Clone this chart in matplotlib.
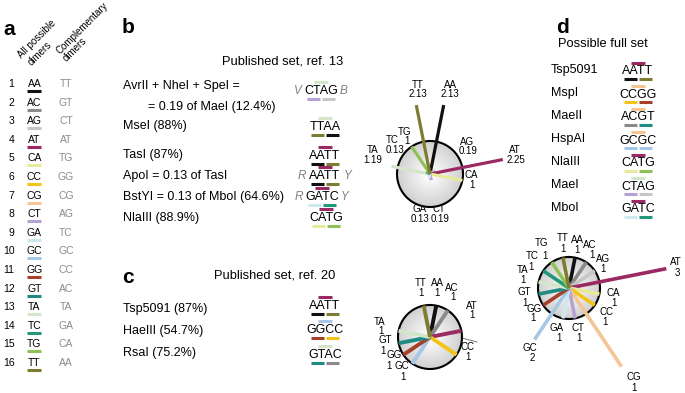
import numpy as np
import matplotlib
matplotlib.use('Agg')
import matplotlib.pyplot as plt

plt.rcParams['font.family'] = ['Liberation Sans', 'DejaVu Sans']

# ---------------- data ----------------
dimers = ['AA', 'AC', 'AG', 'AT', 'CA', 'CC', 'CG', 'CT',
          'GA', 'GC', 'GG', 'GT', 'TA', 'TC', 'TG', 'TT']
complements = ['TT', 'GT', 'CT', 'AT', 'TG', 'GG', 'CG', 'AG',
               'TC', 'GC', 'CC', 'AC', 'TA', 'GA', 'CA', 'AA']
dimer_colors = ['#111111', '#8a8a8a', '#c6c6c6', '#9b2a63', '#e6ea9a', '#f2c318',
                '#f6c596', '#b4a2d2', '#cde9ef', '#a6c8e6', '#a4402c', '#1e8a82',
                '#d3e6c9', '#24977a', '#8fc158', '#7e7c30']

b_title = 'Published set, ref. 13'
b_enzymes = ['AvrII + NheI + SpeI =', '= 0.19 of MaeI (12.4%)', 'MseI (88%)',
             'TasI (87%)', 'ApoI = 0.13 of TasI', 'BstYI = 0.13 of MboI (64.6%)',
             'NlaIII (88.9%)']
b_sites = ['CTAG', 'TTAA', 'AATT', 'AATT', 'GATC', 'CATG']
b_flanks = [('V', 'B'), ('', ''), ('', ''), ('R', 'Y'), ('R', 'Y'), ('', '')]
b_dimers = ['AA', 'AG', 'AT', 'CA', 'CT', 'GA', 'TA', 'TC', 'TG', 'TT']
b_values = [2.13, 0.19, 2.25, 1, 0.19, 0.13, 1.19, 0.13, 1, 2.13]
b_labels = ['2.13', '0.19', '2.25', '1', '0.19', '0.13', '1.19', '0.13', '1', '2.13']

c_title = 'Published set, ref. 20'
c_enzymes = ['Tsp5091 (87%)', 'HaeIII (54.7%)', 'RsaI (75.2%)']
c_sites = ['AATT', 'GGCC', 'GTAC']
c_dimers = ['AA', 'AC', 'AT', 'CC', 'GC', 'GG', 'GT', 'TA', 'TT']
c_values = [1, 1, 1, 1, 1, 1, 1, 1, 1]

d_title = 'Possible full set'
d_enzymes = ['Tsp5091', 'MspI', 'MaeII', 'HspAI', 'NlaIII', 'MaeI', 'MboI']
d_sites = ['AATT', 'CCGG', 'ACGT', 'GCGC', 'CATG', 'CTAG', 'GATC']
d_dimers = dimers
d_labels = ['1', '1', '1', '3', '1', '1', '1', '1', '1', '2', '1', '1', '1', '1', '1', '1']
d_drawn = [1, 1, 1, 3.2, 1, 1, 3.05, 1, 1, 2.0, 1, 1, 1, 1, 1, 1]

col = dict(zip(dimers, dimer_colors))

# ---------------- figure ----------------
W, H = 685, 393
fig = plt.figure(figsize=(W / 100, H / 100), dpi=100)
ax = fig.add_axes([0, 0, 1, 1])
ax.set_xlim(0, W)
ax.set_ylim(H, 0)
ax.axis('off')

FS = 9.0


def bar(x0, x1, y, c, lw=2.2):
    ax.plot([x0, x1], [y, y], color=c, lw=lw, solid_capstyle='butt')


def motif(cx, y, site, flank=('', '')):
    ax.text(cx, y, site, ha='center', va='center', fontsize=FS)
    d1, d2, dm = site[:2], site[2:], site[1:3]
    bar(cx - 14, cx - 1, y + 7.5, col[d1])
    bar(cx + 1, cx + 14, y + 7.5, col[d2])
    bar(cx - 7, cx + 7, y - 9, col[dm])
    if flank[0]:
        ax.text(cx - 19, y, flank[0], ha='right', va='center', fontsize=FS - 0.5,
                style='italic', color='#808080')
    if flank[1]:
        ax.text(cx + 19, y, flank[1], ha='left', va='center', fontsize=FS - 0.5,
                style='italic', color='#808080')


# ---------------- panel a ----------------
ax.text(3, 35, 'a', fontsize=15, fontweight='bold', va='baseline')
ax.text(37, 39, 'All possible', rotation=45, ha='center', va='center', fontsize=7)
ax.text(40, 54, 'dimers', rotation=45, ha='center', va='center', fontsize=7)
ax.text(82, 28, 'Complementary', rotation=45, ha='center', va='center', fontsize=7)
ax.text(75, 50, 'dimers', rotation=45, ha='center', va='center', fontsize=7)
for i, (dm, cp) in enumerate(zip(dimers, complements)):
    y = 84 + i * 18.6
    ax.text(14.5, y, str(i + 1), ha='right', va='center', fontsize=7.5)
    ax.text(34.5, y, dm, ha='center', va='center', fontsize=7.5)
    ax.text(66, y, cp, ha='center', va='center', fontsize=7.5, color='#8c8c8c')
    bar(27.5, 41.5, y + 7, dimer_colors[i], lw=2.2)

# ---------------- panel b ----------------
ax.text(122, 33, 'b', fontsize=15, fontweight='bold', va='baseline')
ax.text(343, 62, b_title, ha='right', va='center', fontsize=9.3)
b_text_pos = [(123, 86), (148, 107), (123, 126), (123, 155), (123, 176), (123, 197), (123, 218)]
for t, (x, y) in zip(b_enzymes, b_text_pos):
    ax.text(x, y, t, ha='left', va='center', fontsize=FS)
b_site_y = [91, 127, 156, 176, 197, 218]
b_site_x = [321, 325, 325, 325, 322, 326]
for s, fl, x, y in zip(b_sites, b_flanks, b_site_x, b_site_y):
    motif(x, y, s, fl)

# ---------------- panel c ----------------
ax.text(122, 283, 'c', fontsize=15, fontweight='bold', va='baseline')
ax.text(335, 276, c_title, ha='right', va='center', fontsize=9.3)
for t, y in zip(c_enzymes, [309, 331, 353]):
    ax.text(123, y, t, ha='left', va='center', fontsize=FS)
for s, y in zip(c_sites, [306, 330, 355]):
    motif(325, y, s)

# ---------------- panel d ----------------
ax.text(556, 33, 'd', fontsize=15, fontweight='bold', va='baseline')
ax.text(558, 44, d_title, ha='left', va='center', fontsize=9.3)
d_rows = [70, 93, 116, 139, 162, 185, 208]
for t, s, y in zip(d_enzymes, d_sites, d_rows):
    ax.text(551, y, t, ha='left', va='center', fontsize=FS)
    motif(638, y + 1.5, s)


# ---------------- radial plots ----------------
def radial(cx, cy, rpx, names, lengths, lw, half=130):
    axp = fig.add_axes([(cx - half) / W, (H - cy - half) / H, 2 * half / W, 2 * half / H],
                       projection='polar')
    axp.set_theta_zero_location('N')
    axp.set_theta_direction(-1)
    axp.set_ylim(0, half / rpx)
    axp.axis('off')
    th = np.linspace(0, 2 * np.pi, 240)
    n = 14
    for k in range(n):
        rr = 1 - 0.93 * k / n
        g = 0.82 + 0.17 * (k / (n - 1))
        axp.fill(th, np.full_like(th, rr), color=(g, g, g), lw=0, zorder=1)
    axp.plot(th, np.ones_like(th), color='black', lw=1.5, zorder=2)
    for nm, L in zip(names, lengths):
        t = np.deg2rad(11.25 + 22.5 * dimers.index(nm))
        axp.plot([t, t], [0, L], color=col[nm], lw=lw, solid_capstyle='butt',
                 zorder=3, clip_on=False)
    return axp


radial(430, 174, 33, b_dimers, b_values, 2.3)
radial(430, 337, 32, c_dimers, c_values, 2.8)
radial(569, 288, 31, d_dimers, d_drawn, 2.6)

LF = 7


def lab(name, val, p1, p2):
    ax.text(p1[0], p1[1], name, ha='center', va='center', fontsize=LF)
    ax.text(p2[0], p2[1], val, ha='center', va='center', fontsize=LF)


b_lab_pos = {'TT': ((418, 85), (418, 94)), 'AA': ((450, 85), (450, 94)),
             'AG': ((467, 142), (468, 151)), 'AT': ((515, 150), (516, 160)),
             'CA': ((471, 175), (472, 185)), 'TG': ((405, 132), (407, 141)),
             'TC': ((392, 140), (395, 150)), 'TA': ((373, 150), (373, 160)),
             'GA': ((420, 209), (420, 219)), 'CT': ((439, 209), (440, 219))}
for nm, v in zip(b_dimers, b_labels):
    p1, p2 = b_lab_pos[nm]
    lab(nm, v, p1, p2)

c_lab_pos = {'TT': ((421, 283), (421, 293)), 'AA': ((437, 283), (437, 293)),
             'AC': ((452, 288), (453, 297)), 'AT': ((472, 306), (472, 315)),
             'CC': ((468, 347), (468, 357)), 'TA': ((380, 322), (381, 331)),
             'GT': ((385, 340), (383, 351)), 'GG': ((394, 355), (389, 366)),
             'GC': ((402, 366), (403, 377))}
for nm, v in zip(c_dimers, c_values):
    p1, p2 = c_lab_pos[nm]
    lab(nm, str(v), p1, p2)
ax.plot([462, 477], [338, 342], color='#777777', lw=0.7)

d_lab_pos = {'TT': ((563, 238), (563, 249)), 'AA': ((577, 240), (577, 250)),
             'AC': ((590, 245), (592, 255)), 'AG': ((603, 259), (603, 269)),
             'AT': ((676, 262), (677, 273)), 'CA': ((613, 293), (614, 303)),
             'CC': ((607, 312), (605, 322)), 'CG': ((634, 377), (634, 388)),
             'CT': ((578, 328), (579, 338)), 'GA': ((557, 328), (559, 338)),
             'GC': ((530, 348), (532, 358)), 'GG': ((534, 309), (533, 318)),
             'GT': ((524, 292), (525, 303)), 'TA': ((523, 270), (523, 280)),
             'TC': ((532, 256), (531, 267)), 'TG': ((542, 243), (545, 256))}
for nm, v in zip(d_dimers, d_labels):
    p1, p2 = d_lab_pos[nm]
    lab(nm, v, p1, p2)

fig.savefig('out.png', dpi=100)
